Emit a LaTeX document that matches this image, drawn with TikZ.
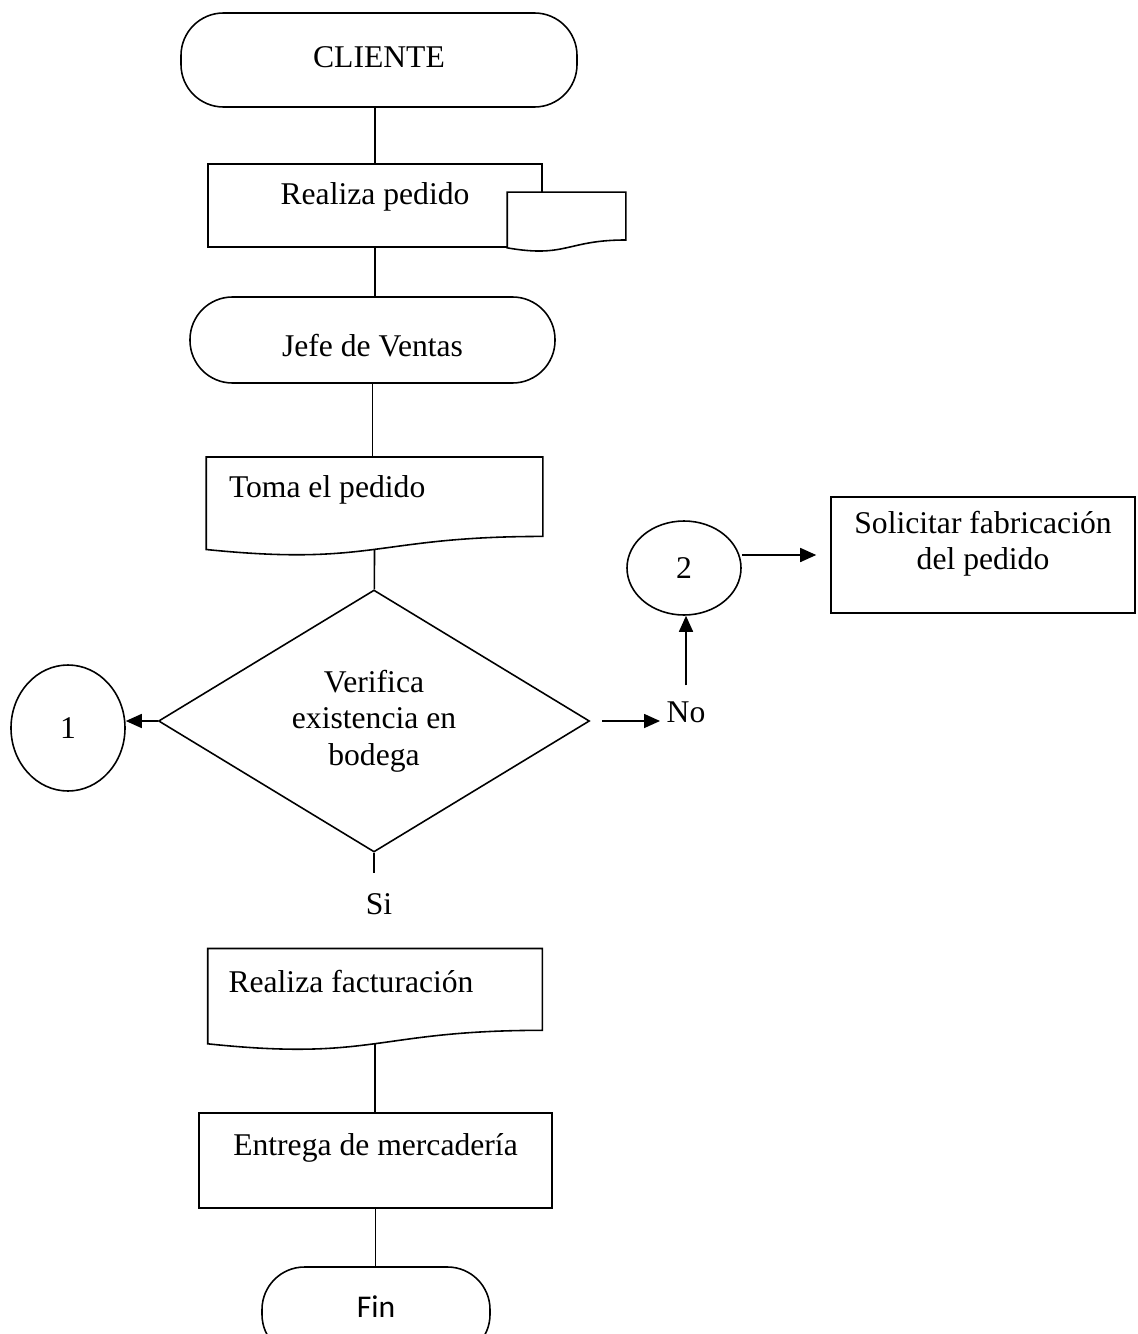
\documentclass[tikz,border=0pt]{standalone}
\usepackage{fontspec}
\setmainfont{Liberation Serif}
\newfontfamily\finfont{Carlito}
\usetikzlibrary{shapes.geometric, arrows.meta, calc}

\newcommand{\docline}[2][]{%
  \draw[#1] (#2.north west) -- (#2.north east)
    -- ($(#2.north east)!0.802!(#2.south east)$)
    .. controls ($(#2.north)!0.802!(#2.south)$) and ($(#2.north)!1.107!(#2.south)$)
    .. ($(#2.north west)!0.934!(#2.south west)$) -- cycle;}

\begin{document}
\begin{tikzpicture}[font=\fontsize{18}{20.7}\selectfont, line width=0.9pt,
        term/.style={draw, rounded corners=8.5mm, inner sep=0pt, align=center},
        proc/.style={draw, inner sep=0pt},
        docu/.style={inner sep=0pt, align=flush left},
        dec/.style={draw, diamond, aspect=1.6, inner sep=0pt, align=flush center, minimum width=8.62cm, minimum height=5.24cm},
        conn/.style={draw, ellipse, inner sep=0pt},
        arr/.style={-{Triangle[length=3.2mm, width=2.8mm]}}]
        \useasboundingbox (0,0) rectangle (22.74,-26.68);
        \node[term, minimum width=7.92cm, text height=1.1cm, text depth=0.78cm] (cli) at (7.58,-1.2) {CLIENTE};
        \node[proc, minimum width=6.68cm, text height=0.82cm, text depth=0.84cm] (ped) at (7.5,-4.11) {Realiza pedido};
        \node[docu, minimum width=2.34cm, minimum height=1.16cm] (pdoc) at (11.33,-4.44) {};
        \docline[fill=white]{pdoc}
        \node[term, minimum width=7.3cm, text height=1.18cm, text depth=0.54cm] (jefe) at (7.45,-6.8) {Jefe de Ventas};
        \node[docu, text width=5.82cm, inner xsep=0.44cm, text height=0.8cm, text depth=1.15cm] (toma) at (7.49,-10.13) {Toma el pedido};
        \docline{toma}
        \node[dec] (verif) at (7.48,-14.42) {Verifica\\existencia en\\bodega};
        \node[conn, minimum width=2.28cm, minimum height=2.52cm] (one) at (1.36,-14.56) {1};
        \node (no) at (13.72,-14.25) {No};
        \node[conn, minimum width=2.28cm, minimum height=1.88cm] (two) at (13.68,-11.36) {2};
        \node[proc, text width=5.4cm, align=flush center, minimum width=6.08cm, text height=0.72cm, text depth=1.6cm] (fab) at (19.66,-11.1) {Solicitar fabricación\\del pedido};
        \node[inner sep=0.4cm] (si) at (7.58,-18.08) {Si};
        \node[docu, text width=5.86cm, inner xsep=0.4cm, text height=0.86cm, text depth=1.15cm] (fact) at (7.5,-19.99) {Realiza facturación};
        \docline{fact}
        \node[proc, minimum width=7.06cm, text height=0.84cm, text depth=1.06cm] (ent) at (7.51,-23.21) {Entrega de mercadería};
        \node[term, minimum width=4.56cm, text height=1.0cm, text depth=0.8cm, font=\finfont\fontsize{18}{20.7}\selectfont] (fin) at (7.52,-26.24) {Fin};
        % flujo principal
        \draw (ped) -- (ped |- cli.south);
        \draw (ped) -- (ped |- jefe.north);
        \draw (jefe) -- (jefe |- toma.north);
        \draw ($(toma.north)!0.933!(toma.south)$) -- (verif);
        \draw (verif.south) -- (verif.south |- si.north);
        \draw ($(fact.north)!0.933!(fact.south)$) -- (fact.south |- ent.north);
        \draw (ent) -- (ent |- fin.north);
        % salidas de la decision
        \draw[arr] (verif.west) -- (verif.west -| one.east);
        \draw[arr] ([xshift=2.4mm]verif.east) -- (no.west |- verif.east);
        \draw[arr] ([yshift=2mm]no.north) -- (no.north |- two.south);
        \draw[arr] (two.east |- fab.west) -- ([xshift=-2.8mm]fab.west);
      \end{tikzpicture}
\end{document}
